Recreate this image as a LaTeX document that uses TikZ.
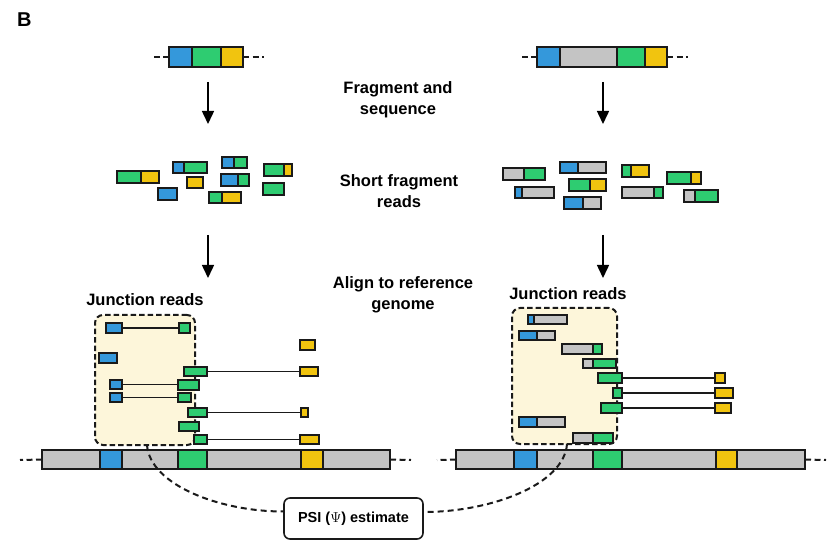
\documentclass[tikz,border=0pt]{standalone}
\usepackage[no-math]{fontspec}
\setmainfont{Liberation Sans}
\usetikzlibrary{arrows.meta}
\definecolor{cblue}{HTML}{3498DB}
\definecolor{cgreen}{HTML}{2ECC71}
\definecolor{cyellow}{HTML}{F1C40F}
\definecolor{cgray}{HTML}{C4C4C4}
\definecolor{cjunc}{HTML}{FDF6DA}
\definecolor{cline}{HTML}{1A1A1A}
\tikzset{
 seg/.style={draw=cline, line width=2pt, inner sep=0pt, outer sep=0pt, anchor=north west},
 conn/.style={draw=cline, line width=1.6pt},
 gdash/.style={draw=cline, line width=2pt, dash pattern=on 6pt off 3.5pt},
 arr/.style={draw=black, line width=1.5pt, -{Triangle[length=13pt,width=12pt]}},
 lbl/.style={font=\fontsize{16.5}{21}\selectfont\bfseries, align=center, inner sep=0pt},
 jbox/.style={draw=cline, fill=cjunc, line width=2pt, dash pattern=on 5.5pt off 3pt, rounded corners=8pt, inner sep=0pt, outer sep=0pt, anchor=north west},
 cdash/.style={draw=cline, line width=2pt, dash pattern=on 6pt off 4pt},
 psibox/.style={draw=cline, line width=1.6pt, rounded corners=6pt, fill=white, minimum width=139pt, minimum height=41pt, inner sep=0pt, font=\fontsize{14.5}{17}\selectfont\bfseries}
}
\newcommand\bx[6]{\node[seg, fill=#6, minimum width={(#3-#2)*1pt}, minimum height={(#5-#4)*1pt}] (#1) at (#2,#4) {};}
\begin{document}
\begin{tikzpicture}[x=1pt,y=-1pt]
\useasboundingbox (0,0) rectangle (830,545);
% panel letter
\node[font=\fontsize{20}{24}\selectfont\bfseries, anchor=base west, inner sep=0pt] (lettB) at (17,27) {B};

% ---------- top genes ----------
\bx{ga1}{169}{192}{47}{67}{cblue}
\bx{ga2}{192}{221}{47}{67}{cgreen}
\bx{ga3}{221}{243}{47}{67}{cyellow}
\coordinate (gal) at (150,57);
\coordinate (gar) at (264,57);
\draw[gdash] (ga1.west) -- (gal);
\draw[gdash] (ga3.east) -- (gar);

\bx{gb1}{537}{560}{47}{67}{cblue}
\bx{gb2}{560}{617}{47}{67}{cgray}
\bx{gb3}{617}{645}{47}{67}{cgreen}
\bx{gb4}{645}{667}{47}{67}{cyellow}
\coordinate (gbl) at (518,57);
\coordinate (gbr) at (688,57);
\draw[gdash] (gb1.west) -- (gbl);
\draw[gdash] (gb4.east) -- (gbr);

% ---------- arrows ----------
\coordinate (a1s) at (208,82);  \coordinate (a1e) at (208,124);
\coordinate (a2s) at (208,235); \coordinate (a2e) at (208,278);
\coordinate (a3s) at (603,82);  \coordinate (a3e) at (603,124);
\coordinate (a4s) at (603,235); \coordinate (a4e) at (603,278);
\draw[arr] (a1s) -- (a1e);
\draw[arr] (a2s) -- (a2e);
\draw[arr] (a3s) -- (a3e);
\draw[arr] (a4s) -- (a4e);

% ---------- labels ----------
\node[lbl] (t1) at (398,99.5) {Fragment and\\sequence};
\node[lbl] (t2) at (399,191.5) {Short fragment\\reads};
\node[lbl] (t3) at (403,295) {Align to reference\\genome};
\node[lbl] (jlt) at (145,300) {Junction reads};
\node[lbl] (jrt) at (568,294) {Junction reads};

% ---------- left short reads ----------
\bx{l1a}{117}{141}{171}{183}{cgreen}\bx{l1b}{141}{159}{171}{183}{cyellow}
\bx{l2a}{173}{184}{162}{173}{cblue}\bx{l2b}{184}{207}{162}{173}{cgreen}
\bx{l3a}{187}{203}{177}{188}{cyellow}
\bx{l4a}{158}{177}{188}{200}{cblue}
\bx{l5a}{222}{234}{157}{168}{cblue}\bx{l5b}{234}{247}{157}{168}{cgreen}
\bx{l6a}{221}{238}{174}{186}{cblue}\bx{l6b}{238}{249}{174}{186}{cgreen}
\bx{l7a}{209}{222}{192}{203}{cgreen}\bx{l7b}{222}{241}{192}{203}{cyellow}
\bx{l8a}{264}{284}{164}{176}{cgreen}\bx{l8b}{284}{292}{164}{176}{cyellow}
\bx{l9a}{263}{284}{183}{195}{cgreen}

% ---------- right short reads ----------
\bx{r1a}{503}{524}{168}{180}{cgray}\bx{r1b}{524}{545}{168}{180}{cgreen}
\bx{r2a}{560}{578}{162}{173}{cblue}\bx{r2b}{578}{606}{162}{173}{cgray}
\bx{r3a}{515}{522}{187}{198}{cblue}\bx{r3b}{522}{554}{187}{198}{cgray}
\bx{r4a}{569}{590}{179}{191}{cgreen}\bx{r4b}{590}{606}{179}{191}{cyellow}
\bx{r5a}{564}{583}{197}{209}{cblue}\bx{r5b}{583}{601}{197}{209}{cgray}
\bx{r6a}{622}{631}{165}{177}{cgreen}\bx{r6b}{631}{649}{165}{177}{cyellow}
\bx{r7a}{622}{654}{187}{198}{cgray}\bx{r7b}{654}{663}{187}{198}{cgreen}
\bx{r8a}{667}{691}{172}{184}{cgreen}\bx{r8b}{691}{701}{172}{184}{cyellow}
\bx{r9a}{684}{695}{190}{202}{cgray}\bx{r9b}{695}{718}{190}{202}{cgreen}

% ---------- junction boxes ----------
\node[jbox, minimum width=100pt, minimum height=130pt] (jl) at (95,315) {};
\node[jbox, minimum width=105pt, minimum height=136pt] (jr) at (512,308) {};

% ---------- left aligned reads ----------
\bx{j1a}{106}{122}{323}{333}{cblue}\bx{j1b}{179}{190}{323}{333}{cgreen}
\draw[conn] (j1a.east) -- (j1b.west);
\bx{j2a}{300}{315}{340}{350}{cyellow}
\bx{j3a}{99}{117}{353}{363}{cblue}
\bx{j4a}{184}{207}{367}{376}{cgreen}\bx{j4b}{300}{318}{367}{376}{cyellow}
\draw[conn] (j4a.east) -- (j4b.west);
\bx{j5a}{110}{122}{380}{389}{cblue}\bx{j5b}{178}{199}{380}{390}{cgreen}
\draw[conn] (j5a.east) -- (j5a.east -| j5b.west);
\bx{j6a}{110}{122}{393}{402}{cblue}\bx{j6b}{178}{191}{393}{402}{cgreen}
\draw[conn] (j6a.east) -- (j6b.west);
\bx{j7a}{188}{207}{408}{417}{cgreen}\bx{j7b}{301}{308}{408}{417}{cyellow}
\draw[conn] (j7a.east) -- (j7b.west);
\bx{j8a}{179}{199}{422}{431}{cgreen}
\bx{j9a}{194}{207}{435}{444}{cgreen}\bx{j9b}{300}{319}{435}{444}{cyellow}
\draw[conn] (j9a.east) -- (j9b.west);

% ---------- right aligned reads ----------
\bx{k1a}{528}{534}{315}{324}{cblue}\bx{k1b}{534}{567}{315}{324}{cgray}
\bx{k2a}{519}{537}{331}{340}{cblue}\bx{k2b}{537}{555}{331}{340}{cgray}
\bx{k3a}{562}{593}{344}{354}{cgray}\bx{k3b}{593}{602}{344}{354}{cgreen}
\bx{k4a}{583}{593}{359}{368}{cgray}\bx{k4b}{593}{616}{359}{368}{cgreen}
\bx{k5a}{598}{622}{373}{383}{cgreen}\bx{k5b}{715}{725}{373}{383}{cyellow}
\draw[conn] (k5a.east) -- (k5b.west);
\bx{k6a}{613}{622}{388}{398}{cgreen}\bx{k6b}{715}{733}{388}{398}{cyellow}
\draw[conn] (k6a.east) -- (k6b.west);
\bx{k7a}{601}{622}{403}{413}{cgreen}\bx{k7b}{715}{731}{403}{413}{cyellow}
\draw[conn] (k7a.east) -- (k7b.west);
\bx{k8a}{519}{537}{417}{427}{cblue}\bx{k8b}{537}{565}{417}{427}{cgray}
\bx{k9a}{573}{593}{433}{443}{cgray}\bx{k9b}{593}{613}{433}{443}{cgreen}

% ---------- reference genome bars ----------
\bx{bl}{42}{390}{450}{469}{cgray}
\bx{bl1}{100}{122}{450}{469}{cblue}
\bx{bl2}{178}{207}{450}{469}{cgreen}
\bx{bl3}{301}{323}{450}{469}{cyellow}
\coordinate (bll) at (20,460);
\coordinate (blr) at (411,460);
\draw[gdash] (bl.west) -- (bll);
\draw[gdash] (bl.east) -- (blr);

\bx{br}{456}{805}{450}{469}{cgray}
\bx{br1}{514}{537}{450}{469}{cblue}
\bx{br2}{593}{622}{450}{469}{cgreen}
\bx{br3}{716}{737}{450}{469}{cyellow}
\coordinate (brl) at (437,460);
\coordinate (brr) at (826,460);
\draw[gdash] (br.west) -- (brl);
\draw[gdash] (br.east) -- (brr);

% ---------- PSI estimate ----------
\node[psibox] (psi) at (353.5,518.5) {PSI ({\fontseries{m}\selectfont$\Psi$}) estimate};
\coordinate (cl) at (147,445);
\coordinate (cr) at (567,444);
\draw[cdash] (cl) .. controls (150,485) and (220,511.5) .. ([yshift=7pt]psi.west);
\draw[cdash] (cr) .. controls (564,485) and (490,512) .. ([yshift=6.5pt]psi.east);
\end{tikzpicture}
\end{document}
